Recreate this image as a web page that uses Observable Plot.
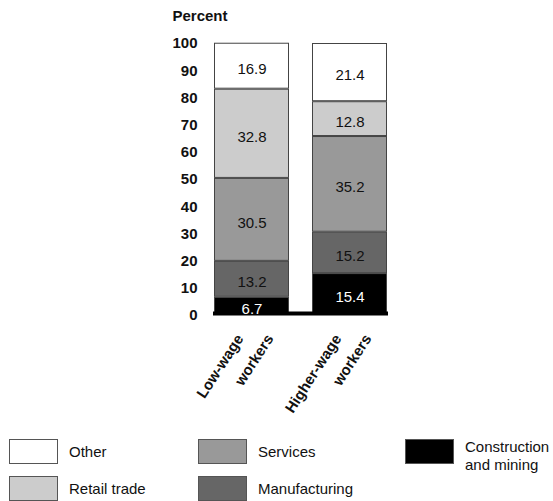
<!DOCTYPE html>
<html>
<head>
<meta charset="utf-8">
<script src="https://cdn.jsdelivr.net/npm/d3@7"></script>
<script src="https://cdn.jsdelivr.net/npm/@observablehq/plot@0.6"></script>
<style>
  html, body { margin: 0; padding: 0; background: #fff; }
  #wrap { position: relative; width: 553px; height: 501px; font-family: "Liberation Sans", Arial, sans-serif; }
  .sw { position: absolute; width: 49px; height: 25px; box-sizing: border-box; border: 1px solid #555; }
  .lt { position: absolute; font-size: 15px; line-height: 18px; color: #111; white-space: nowrap; }
</style>
</head>
<body>
<div id="wrap"></div>
<script>
// ---- data ----
const groups = ["Low-wage workers", "Higher-wage workers"];
const groupLine1 = ["Low-wage", "Higher-wage"];
const groupLine2 = ["workers", "workers"];
const categories = ["Construction and mining", "Manufacturing", "Services", "Retail trade", "Other"];
const colors = ["#000000", "#666666", "#999999", "#cccccc", "#ffffff"];
const lowWage = [6.7, 13.2, 30.5, 32.8, 16.9];
const higherWage = [15.4, 15.2, 35.2, 12.8, 21.4];
const yTicks = [0, 10, 20, 30, 40, 50, 60, 70, 80, 90, 100];
const legendOrder = ["Other", "Retail trade", "Services", "Manufacturing", "Construction and mining"];
const legendLabels = ["Other", "Retail trade", "Services", "Manufacturing", "Construction<br>and mining"];

const rows = [];
categories.forEach((c, i) => {
  rows.push({group: groups[0], category: c, value: lowWage[i]});
  rows.push({group: groups[1], category: c, value: higherWage[i]});
});
const labelRows = groups.map((g, i) => ({group: g, l1: groupLine1[i], l2: groupLine2[i]}));

const chart = Plot.plot({
  width: 553,
  height: 430,
  marginLeft: 213,
  marginRight: 165,
  marginTop: 43,
  marginBottom: 115,
  style: {fontFamily: "'Liberation Sans', Arial, sans-serif", fontSize: "15px", color: "#111", background: "#fff"},
  x: {domain: groups, paddingInner: 0.232, paddingOuter: 0, axis: null},
  y: {domain: [0, 100], axis: null},
  color: {domain: categories, range: colors},
  marks: [
    Plot.barY(rows, Plot.stackY({x: "group", y: "value", z: "category", fill: "category", stroke: "#444", strokeWidth: 1, inset: 0.5})),
    Plot.ruleY([0], {stroke: "#000", strokeWidth: 4, dy: -2}),
    Plot.text(rows, Plot.stackY({
      x: "group", y: "value", z: "category",
      text: d => d.value.toFixed(1),
      fill: d => d.category === "Construction and mining" ? "#fff" : "#111",
      fontSize: 15, dy: 3
    })),
    Plot.axisY({ticks: yTicks, tickSize: 0, tickPadding: 16, fontWeight: "bold", fontSize: 15, tickFormat: d => String(d), label: null}),
    Plot.text(["Percent"], {frameAnchor: "top-left", text: d => d, dx: -41, dy: -23, lineAnchor: "bottom", textAnchor: "start", fontWeight: "bold", fontSize: 15}),
    Plot.text(labelRows, {x: "group", frameAnchor: "bottom", text: "l1", rotate: -57, textAnchor: "end", dx: -8, dy: 23, fontWeight: "bold", fontSize: 15}),
    Plot.text(labelRows, {x: "group", frameAnchor: "bottom", text: "l2", rotate: -57, textAnchor: "end", dx: 22, dy: 23, fontWeight: "bold", fontSize: 15})
  ]
});

const wrap = document.getElementById("wrap");
chart.style.position = "absolute";
chart.style.left = "0px";
chart.style.top = "0px";
wrap.appendChild(chart);

// legend (HTML), colours looked up from the same category/colour arrays
const colX = [9, 198, 405];
const rowY = [439, 476];
legendOrder.forEach((cat, i) => {
  const col = Math.floor(i / 2), row = i % 2;
  const sw = document.createElement("div");
  sw.className = "sw";
  sw.style.left = colX[col] + "px";
  sw.style.top = rowY[row] + "px";
  sw.style.background = colors[categories.indexOf(cat)];
  wrap.appendChild(sw);
  const t = document.createElement("div");
  t.className = "lt";
  t.innerHTML = legendLabels[i];
  t.style.left = (colX[col] + 60) + "px";
  const lines = legendLabels[i].split("<br>").length;
  t.style.top = (rowY[row] + 12.5 - (lines === 1 ? 9 : 14)) + "px";
  wrap.appendChild(t);
});
</script>
</body>
</html>
